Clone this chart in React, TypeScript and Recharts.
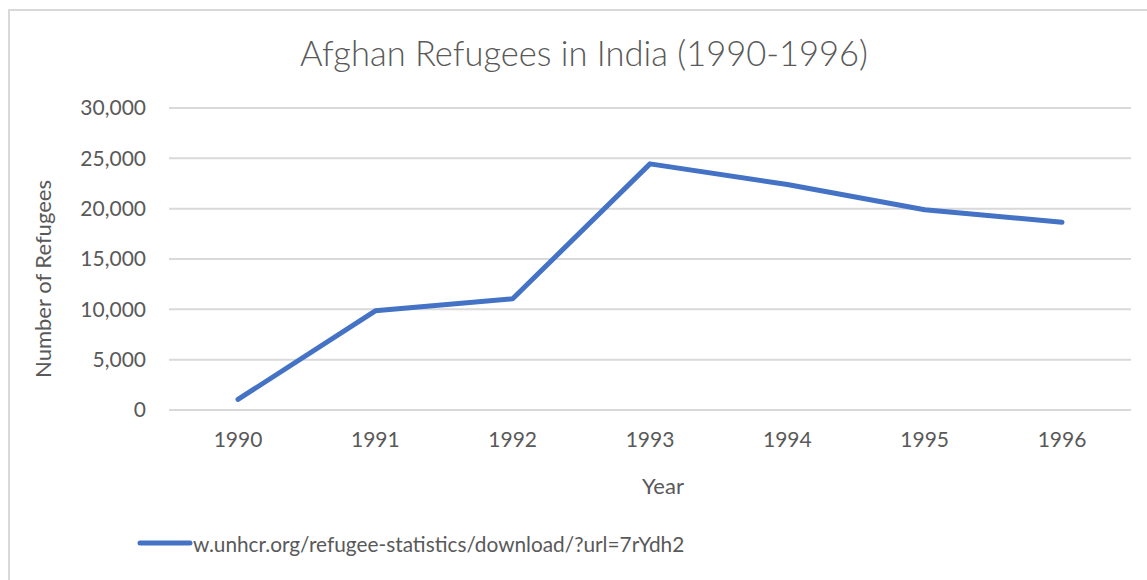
import React from 'react'
import { LineChart, Line, XAxis, YAxis, CartesianGrid, Legend } from 'recharts'

// ─── Data ─────────────────────────────────────────────────────────────────────

const YEARS = ['1990', '1991', '1992', '1993', '1994', '1995', '1996']
const REFUGEES = [1050, 9850, 11050, 24450, 22400, 19900, 18650]
const Y_TICKS = [0, 5000, 10000, 15000, 20000, 25000, 30000]
const SERIES_NAME = 'w.unhcr.org/refugee-statistics/download/?url=7rYdh2'

const chartData = YEARS.map((year, i) => ({ year, value: REFUGEES[i] }))

// ─── Style ────────────────────────────────────────────────────────────────────

const FONT = 'Lato, "Open Sans", sans-serif'
const TEXT = '#595959'
const GRID = '#d9d9d9'
const BLUE = '#4472c4'

function YLabel({ viewBox }: { viewBox?: { x: number; y: number; width: number; height: number } }) {
  if (!viewBox) return null
  const x = viewBox.x + 42
  const y = viewBox.y + viewBox.height / 2 + 20
  return (
    <text
      x={x}
      y={y}
      transform={`rotate(-90 ${x} ${y})`}
      textAnchor="middle"
      dominantBaseline="central"
      fill={TEXT}
      fontSize={22}
      fontFamily={FONT}
    >
      Number of Refugees
    </text>
  )
}

function XLabel({ viewBox }: { viewBox?: { x: number; y: number; width: number; height: number } }) {
  if (!viewBox) return null
  return (
    <text
      x={viewBox.x + viewBox.width / 2 + 13}
      y={viewBox.y + 84}
      textAnchor="middle"
      fill={TEXT}
      fontSize={22}
      fontFamily={FONT}
    >
      Year
    </text>
  )
}

function LegendContent() {
  return (
    <div style={{ display: 'flex', alignItems: 'center', height: 36, paddingLeft: 137 }}>
      <svg width={56} height={8} style={{ display: 'block' }}>
        <line x1={3} y1={4} x2={53} y2={4} stroke={BLUE} strokeWidth={5} strokeLinecap="round" />
      </svg>
      <span style={{ fontFamily: FONT, fontSize: 20.8, color: TEXT }}>{SERIES_NAME}</span>
    </div>
  )
}

export default function App() {
  return (
    <div style={{ position: 'absolute', left: 0, top: 0, width: 1147, height: 580, background: '#fff', overflow: 'hidden' }}>
      {/* chart area border, cropped on right and bottom */}
      <div
        style={{
          position: 'absolute',
          left: 8,
          top: 9,
          width: 1200,
          height: 640,
          borderTop: `2px solid ${GRID}`,
          borderLeft: `2px solid ${GRID}`,
        }}
      />
      <div
        style={{
          position: 'absolute',
          left: 584,
          top: 33,
          transform: 'translateX(-50%)',
          whiteSpace: 'nowrap',
          fontFamily: FONT,
          fontWeight: 300,
          fontSize: 34.5,
          lineHeight: '40px',
          color: TEXT,
        }}
      >
        Afghan Refugees in India (1990-1996)
      </div>
      <div style={{ position: 'absolute', left: 0, top: 0 }}>
        <LineChart width={1147} height={580} data={chartData} margin={{ top: 108, right: 16, bottom: 15, left: 0 }}>
          <CartesianGrid stroke={GRID} strokeWidth={2} vertical={false} />
          <XAxis
            dataKey="year"
            height={115}
            padding={{ left: 69, right: 69 }}
            axisLine={{ stroke: GRID, strokeWidth: 2 }}
            tickLine={false}
            tickSize={0}
            tickMargin={22}
            tick={{ fill: TEXT, fontSize: 21, fontFamily: FONT }}
            label={<XLabel />}
          />
          <YAxis
            width={169}
            domain={[0, 30000]}
            ticks={Y_TICKS}
            axisLine={false}
            tickLine={false}
            tickSize={0}
            tickMargin={23}
            tick={{ fill: TEXT, fontSize: 21, fontFamily: FONT }}
            tickFormatter={(v: number) => v.toLocaleString('en-US')}
            label={<YLabel />}
          />
          <Legend verticalAlign="bottom" height={40} content={<LegendContent />} />
          <Line
            type="linear"
            dataKey="value"
            name={SERIES_NAME}
            stroke={BLUE}
            strokeWidth={5}
            strokeLinecap="round"
            strokeLinejoin="round"
            dot={false}
            activeDot={false}
            isAnimationActive={false}
          />
        </LineChart>
      </div>
    </div>
  )
}
